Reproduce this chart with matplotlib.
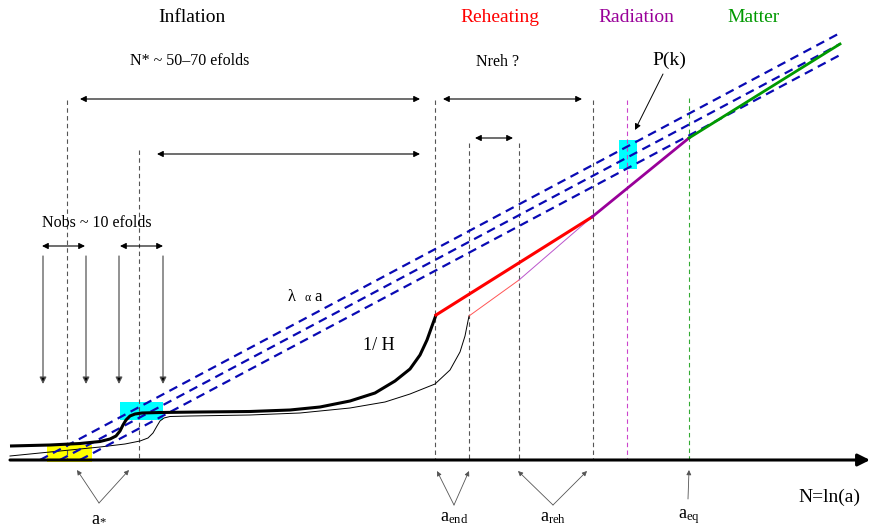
import matplotlib
matplotlib.use("Agg")
import matplotlib.pyplot as plt
from matplotlib.patches import Rectangle

plt.rcParams['font.family'] = ['Liberation Serif', 'DejaVu Serif']
plt.rcParams['mathtext.fontset'] = 'custom'
plt.rcParams['mathtext.rm'] = 'Liberation Serif'
plt.rcParams['mathtext.it'] = 'Liberation Serif:italic'

# ---- data (schematic; x = N = ln a, y = log length, screen units) ----
axis_y = 460
phase_names = ['Inflation', 'Reheating', 'Radiation', 'Matter']
phase_colors = ['black', '#ff0000', '#990099', '#009900']
phase_label_x = [192, 500, 636, 754]

# epoch markers (vertical dashed lines): x, top, colour
epoch_x = [67, 139, 435, 469, 519, 593, 627, 689]
epoch_top = [100, 150, 100, 143, 143, 100, 100, 98]
epoch_colors = ['#555555'] * 6 + ['#cc44cc', '#33aa33']

# thick 1/H curve (inflation part)
hubble_x = [10, 50, 80, 100, 110, 116, 120, 123, 126, 130, 135, 142, 160, 200, 250,
            290, 320, 350, 375, 395, 410, 420, 427, 432, 436]
hubble_y = [446, 445, 443.5, 441.5, 439, 436, 431, 425, 420, 416, 414, 413, 412.5,
            412, 411.5, 410, 407, 401, 393, 381, 369, 355, 340, 326, 315]
# thin 1/H curve (alternative history)
hubble2_x = [10, 40, 70, 100, 125, 140, 148, 153, 157, 160, 164, 170, 190, 250, 300,
             350, 385, 410, 435, 450, 460, 465, 469]
hubble2_y = [456, 453, 450, 447, 444, 441, 438, 433, 426, 421, 418, 416.5, 416, 415,
             413, 408, 402, 394, 384, 370, 352, 336, 316]

# post-inflation straight segments of 1/H
reh_x, reh_y = [436, 592], [315, 217]
rad_x, rad_y = [592, 689], [217, 138]
mat_x, mat_y = [689, 840], [138, 44]
reh2_x, reh2_y = [469, 519], [316, 280]
rad2_x, rad2_y = [519, 592], [280, 217]

# physical wavelengths lambda ~ a (three modes, parallel)
lam_x0 = [40, 60, 80]
lam_y0 = [460, 460, 460]
lam_x1 = [840, 840, 840]
lam_y1 = [33, 44, 55]

fig = plt.figure(figsize=(8.71, 5.26), dpi=100)
ax = fig.add_axes([0, 0, 1, 1])
ax.set_xlim(0, 871)
ax.set_ylim(526, 0)
ax.axis('off')

# highlight boxes
ax.add_patch(Rectangle((47, 445), 45, 17, color='#ffff00', zorder=1, lw=0))
ax.add_patch(Rectangle((120, 402), 43, 18, color='#00ffff', zorder=1, lw=0))
ax.add_patch(Rectangle((619, 140), 18, 29, color='#00ffff', zorder=1, lw=0))

# epoch dashed lines
for x, top, c in zip(epoch_x, epoch_top, epoch_colors):
    ax.plot([x, x], [top, axis_y], ls=(0, (4, 3)), color=c, lw=0.8, zorder=2)

# wavelength lines
for x0, y0, x1, y1 in zip(lam_x0, lam_y0, lam_x1, lam_y1):
    ax.plot([x0, x1], [y0, y1], ls=(0, (4, 2.6)), color='#0a0ab4', lw=1.6, zorder=4)

# Hubble radius
ax.plot(hubble2_x, hubble2_y, color='black', lw=0.7, zorder=3)
ax.plot(hubble_x, hubble_y, color='black', lw=2.2, zorder=5, solid_capstyle='butt')
ax.plot(reh_x, reh_y, color='#ff0000', lw=2.2, zorder=5)
ax.plot(rad_x, rad_y, color='#990099', lw=2.0, zorder=5)
ax.plot(mat_x, mat_y, color='#009900', lw=2.0, zorder=5)
ax.plot(reh2_x, reh2_y, color='#ff5555', lw=0.7, zorder=3)
ax.plot(rad2_x, rad2_y, color='#bb55cc', lw=0.7, zorder=3)

# time axis
ax.annotate('', xy=(870, axis_y), xytext=(10, axis_y),
            arrowprops=dict(arrowstyle='-|>', lw=2.2, color='black',
                            mutation_scale=18, shrinkA=0, shrinkB=0), zorder=6)

def darrow(x0, x1, y):
    ax.annotate('', xy=(x1, y), xytext=(x0, y),
                arrowprops=dict(arrowstyle='<|-|>', lw=0.8, color='black',
                                mutation_scale=9, shrinkA=0, shrinkB=0))

darrow(80, 420, 99)
darrow(157, 420, 154)
darrow(443, 582, 99)
darrow(475, 513, 138)
darrow(42, 85, 246)
darrow(120, 163, 246)

# Nobs down arrows
for x in [43, 86, 119, 163]:
    ax.annotate('', xy=(x, 384), xytext=(x, 256),
                arrowprops=dict(arrowstyle='-|>', lw=0.9, color='#555555',
                                mutation_scale=10, shrinkA=0, shrinkB=0,
                                fc='black'))

def uparrow(x0, y0, x1, y1):
    ax.annotate('', xy=(x1, y1), xytext=(x0, y0),
                arrowprops=dict(arrowstyle='-|>', lw=0.6, color='#555555',
                                mutation_scale=7, shrinkA=0, shrinkB=0))

for apex, tips in [((99, 503), [(77, 470), (129, 470)]),
                   ((454, 505), [(437, 471), (469, 471)]),
                   ((553, 505), [(518, 471), (587, 471)])]:
    for t in tips:
        uparrow(apex[0], apex[1], t[0], t[1])
uparrow(688, 499, 689, 470)

# P(k) arrow
ax.annotate('', xy=(635, 130), xytext=(663, 74),
            arrowprops=dict(arrowstyle='-|>', lw=0.7, color='black',
                            mutation_scale=9, shrinkA=0, shrinkB=0))

# texts
for name, c, x in zip(phase_names, phase_colors, phase_label_x):
    ax.text(x, 18, name, color=c, fontsize=14, ha='center', va='center')
ax.text(190, 61, 'N* ~ 50\u201370 efolds', fontsize=11.5, ha='center', va='center')
ax.text(498, 62, 'Nreh ?', fontsize=11.5, ha='center', va='center')
ax.text(669, 60, 'P(k)', fontsize=14, ha='center', va='center')
ax.text(97, 223, 'Nobs ~ 10 efolds', fontsize=11.5, ha='center', va='center')
ax.text(292, 297, '\u03bb', fontsize=12, ha='center', va='center')
ax.text(308, 298, '\u03b1', fontsize=8.5, ha='center', va='center')
ax.text(318, 297, 'a', fontsize=12, ha='center', va='center')
ax.text(379, 346, '1/ H', fontsize=13, ha='center', va='center')
ax.text(829, 497, 'N=ln(a)', fontsize=14, ha='center', va='center')
ax.text(99, 517, r'$\mathrm{a}_{*}$', fontsize=13, ha='center', va='center')
ax.text(454, 517, r'$\mathrm{a}_{\mathrm{end}}$', fontsize=13, ha='center', va='center')
ax.text(553, 517, r'$\mathrm{a}_{\mathrm{reh}}$', fontsize=13, ha='center', va='center')
ax.text(689, 517, r'$\mathrm{a}_{\mathrm{eq}}$', fontsize=13, ha='center', va='center')

fig.savefig('out.png', dpi=100)
